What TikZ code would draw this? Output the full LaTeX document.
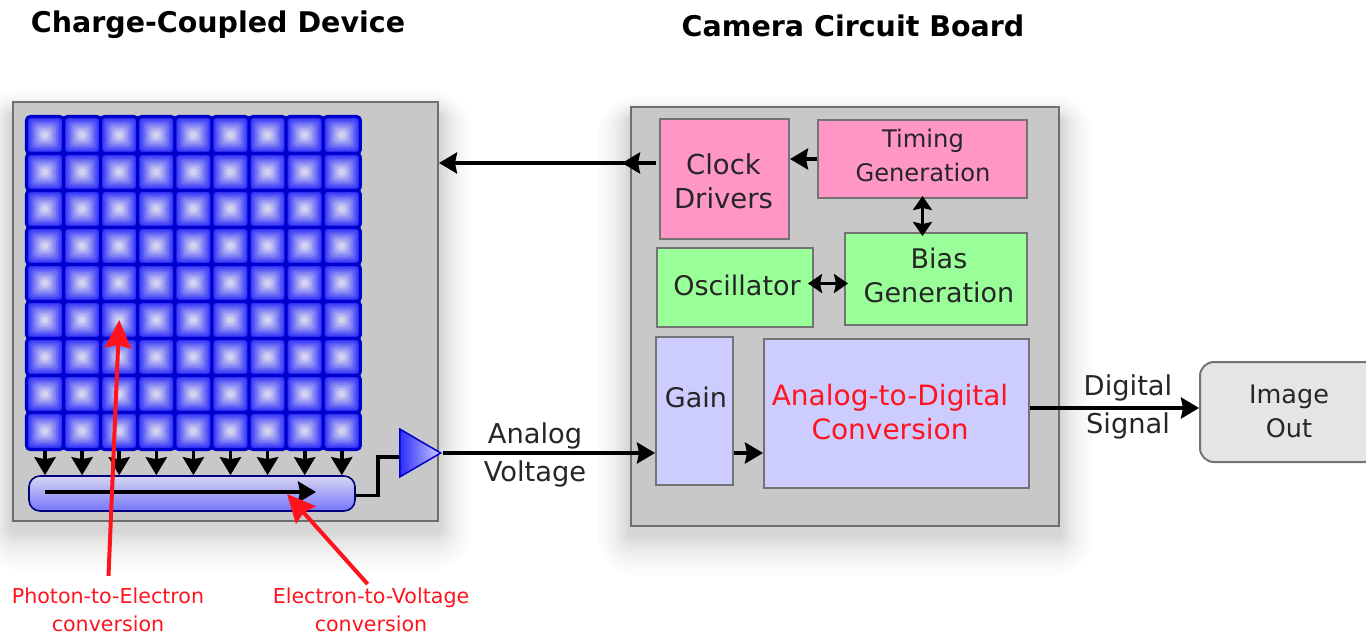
\documentclass[tikz,border=0pt]{standalone}
\usepackage{fontspec}
\setmainfont{DejaVu Sans}
\usetikzlibrary{arrows.meta,shapes.geometric,calc,backgrounds}
\definecolor{panelgray}{RGB}{200,200,200}
\definecolor{edgegray}{RGB}{110,110,110}
\definecolor{timingpink}{RGB}{255,150,197}
\definecolor{biasgreen}{RGB}{153,255,153}
\definecolor{signalblue}{RGB}{204,204,255}
\definecolor{cellblue}{RGB}{45,45,250}
\definecolor{celllight}{RGB}{210,210,240}
\definecolor{celledge}{RGB}{0,0,205}
\definecolor{labelred}{RGB}{255,20,30}

\begin{document}
\begin{tikzpicture}[
    x=1pt, y=-1pt,
    panel/.style={rectangle, draw=edgegray, line width=2pt, fill=panelgray, inner sep=0pt},
    block/.style={rectangle, draw=black!55, line width=2pt, inner sep=0pt},
    blocktext/.style={align=center, inner sep=0pt, text=black!85},
    wordlabel/.style={align=center, inner sep=0pt, text=black!85, font=\fontsize{27.3}{37.5}\selectfont},
    title/.style={inner sep=0pt, font=\bfseries\fontsize{28.5}{32}\selectfont},
    redlabel/.style={align=center, inner sep=0pt, text=labelred, font=\fontsize{20.6}{28}\selectfont},
    cell/.style={rectangle, draw=celledge, line width=3pt, rounded corners=4pt, minimum size=37.2pt, inner sep=0pt,
        path picture={
            \foreach \p in {0,...,8}{
                \pgfmathsetmacro{\h}{18-1.8*\p}
                \pgfmathsetmacro{\m}{100-12.5*\p}
                \fill[cellblue!\m!celllight] ([shift={(-\h,-\h)}]path picture bounding box.center)
                    rectangle ([shift={(\h,\h)}]path picture bounding box.center);
            }
        }},
    arrow/.style={-{Stealth[length=18pt,width=21pt,inset=2pt]}, line width=3.6pt},
    dblarrow/.style={{Stealth[length=14pt,width=19pt,inset=2pt]}-{Stealth[length=14pt,width=19pt,inset=2pt]}, line width=3.6pt},
    redarrow/.style={-{Stealth[length=28pt,width=26pt,inset=3pt]}, line width=4pt, draw=labelred}
]
    \useasboundingbox (0,0) rectangle (1366,634);

    \node[title] (ccdtitle) at (218,25) {Charge-Coupled Device};
    \node[title] (boardtitle) at (853,26) {Camera Circuit Board};

    % panels
    \node[panel, minimum width=425pt, minimum height=419pt] (ccd) at (225.5,311.5) {};
    \node[panel, minimum width=428pt, minimum height=419pt] (board) at (845,316.5) {};

    \begin{scope}[on background layer]
        \foreach \n in {ccd,board}
            \foreach \g in {2,4,6,8,11,14,18,22,27,33,40}
                \fill[black, opacity=0.015, rounded corners=\g pt]
                    ([shift={(-0.8*\g,-0.6*\g+14)}]\n.north west) rectangle ([shift={(0.8*\g,\g+8)}]\n.south east);
    \end{scope}

    % sensor cells
    \foreach \i in {1,...,9}
        \foreach \j in {1,...,9}
            \node[cell] (c\i-\j) at ({45+37.1*(\i-1)},{135+37*(\j-1)}) {};

    \node[rectangle, draw=celledge!60!black, line width=1.6pt, rounded corners=11pt, top color=celllight!90!white,
        bottom color=cellblue!65!white, minimum width=326pt, minimum height=35pt, inner sep=0pt] (register) at (192,493.5) {};
    \node[isosceles triangle, isosceles triangle stretches, draw=celledge, line width=1.5pt, left color=cellblue, right color=signalblue,
        minimum width=48pt, minimum height=41pt, inner sep=0pt, anchor=lower side] (amp) at (399,453) {};

    % camera board blocks
    \node[block, fill=timingpink, minimum width=129pt, minimum height=120pt] (clock) at (724.5,179) {};
    \node[block, fill=timingpink, minimum width=209pt, minimum height=78pt] (timing) at (922.5,159) {};
    \node[block, fill=biasgreen, minimum width=182pt, minimum height=92pt] (bias) at (936,279) {};
    \node[block, fill=biasgreen, minimum width=156pt, minimum height=79pt] (osc) at (735,287.5) {};
    \node[block, fill=signalblue, minimum width=77pt, minimum height=148pt] (gain) at (694.5,411) {};
    \node[block, fill=signalblue, minimum width=265pt, minimum height=149pt] (adc) at (896.5,413.5) {};
    \node[block, fill=black!10, rounded corners=14pt, minimum width=178pt, minimum height=100pt] (image) at (1289,412) {};

    \node[blocktext, font=\fontsize{27.5}{34}\selectfont] (clocktext) at (723.5,181) {Clock\\Drivers};
    \node[blocktext, font=\fontsize{24.2}{34}\selectfont] (timingtext) at (923,155) {Timing\\Generation};
    \node[blocktext, font=\fontsize{27}{34}\selectfont] (biastext) at (939,275) {Bias\\Generation};
    \node[blocktext, font=\fontsize{27}{34}\selectfont] (osctext) at (737,285) {Oscillator};
    \node[blocktext, font=\fontsize{27}{34}\selectfont] (gaintext) at (696,397) {Gain};
    \node[blocktext, text=labelred, font=\fontsize{28}{34}\selectfont] (adctext) at (890,412.5) {Analog-to-Digital\\Conversion};
    \node[blocktext, font=\fontsize{25.5}{34}\selectfont] (imagetext) at (1289,411) {Image\\Out};

    \node[wordlabel] (analog) at (535,455) {Analog\\Voltage};
    \node[wordlabel] (digital) at (1128,407) {Digital\\Signal};

    \coordinate (gate) at (631,163);
    \coordinate (bend) at (378,457);
    \coordinate (regout) at (355,495.5);
    \coordinate (flowstart) at (45,492);
    \coordinate (flowend) at (316,492);
    \coordinate (regpoint) at (287,494);

    % connectors
    \foreach \i in {1,...,9}
        \draw[arrow] (c\i-9.south) -- (c\i-9.south |- register.north);
    \draw[arrow] (flowstart) -- (flowend);
    \draw[line width=3.6pt, line join=miter] (regout) -- (bend |- regout) -- (bend) -- (bend -| amp.lower side);
    \draw[arrow] (amp.apex) -- (gain.west |- amp.apex);
    \draw[arrow] ([xshift=-3pt]clock.west |- gate) -- ([xshift=-9pt]gate);
    \draw[arrow] (gate) -- (ccd.east |- gate);
    \draw[arrow] (timing.west) -- (clock.east |- timing.west);
    \draw[dblarrow] ([yshift=3pt]timing.south) -- ([yshift=-4pt]timing.south |- bias.north);
    \draw[dblarrow] ([xshift=-6pt,yshift=4pt]osc.east) -- ([xshift=4pt,yshift=-4.5pt]bias.west);
    \draw[arrow] (gain.east |- 0,453) -- (adc.west |- 0,453);
    \draw[arrow] (adc.east |- 0,408) -- (image.west |- 0,408);

    \node[redlabel] (photonlabel) at (108,610) {Photon-to-Electron\\conversion};
    \node[redlabel] (electronlabel) at (371,610) {Electron-to-Voltage\\conversion};
    \draw[redarrow, shorten <=12pt] (photonlabel.north) -- (c3-6.center);
    \draw[redarrow, shorten <=5pt] (electronlabel.north) -- (regpoint);
\end{tikzpicture}
\end{document}
